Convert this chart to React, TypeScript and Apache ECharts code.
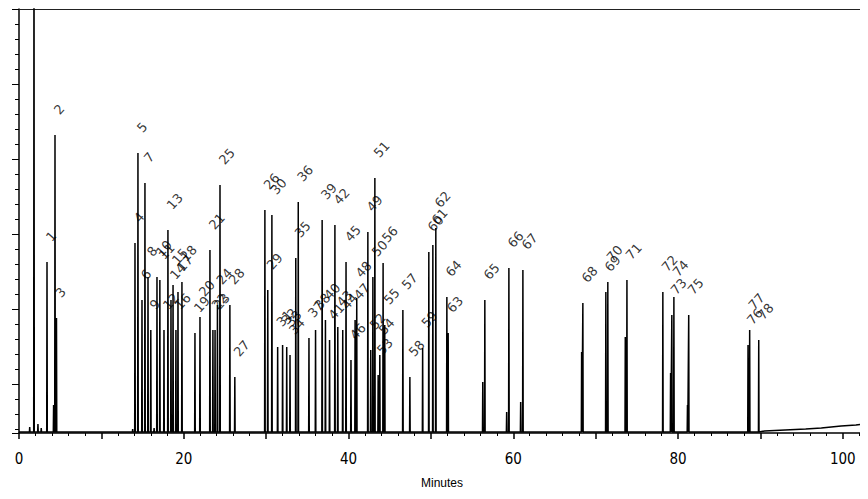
import React, { useEffect, useRef } from "react";
import * as echarts from "echarts";

// Numbered peaks: retention time (min), apex height (detector units), peak number
const peakTimes = [
  3.4, 4.37, 4.55, 14.08, 14.44, 14.93, 15.29, 15.66, 16.0, 16.75, 17.1, 17.6, 18.08, 18.45,
  18.7, 19.05, 19.3, 19.78, 21.36, 21.97, 23.18, 23.54, 23.8, 24.09, 24.4, 25.6, 26.2, 29.85,
  30.2, 30.7, 31.4, 32.0, 32.5, 32.9, 33.6, 33.9, 35.2, 36.0, 36.8, 37.2, 37.7, 38.35, 38.7,
  39.3, 39.7, 40.3, 40.8, 41.0, 42.35, 42.7, 42.96, 43.2, 43.6, 43.8, 44.2, 44.4, 46.6, 47.45,
  49.0, 49.75, 50.24, 50.6, 51.94, 52.1, 56.55, 59.47, 61.17, 68.45, 71.24, 71.48, 73.8,
  78.16, 79.25, 79.5, 81.3, 88.5, 88.7, 89.8,
];
const peakHeights = [
  171, 298, 115, 190, 280, 133, 250, 156, 103, 156, 153, 103, 203, 133, 148, 103, 141, 151,
  100, 116, 183, 103, 103, 128, 248, 128, 56, 223, 143, 218, 86, 88, 86, 78, 175, 231, 95, 103,
  213, 113, 93, 208, 106, 103, 171, 73, 113, 135, 201, 83, 156, 255, 58, 78, 170, 108, 123, 56,
  85, 181, 188, 205, 136, 100, 133, 165, 163, 130, 141, 151, 153, 141, 118, 136, 118, 88, 103,
  93,
];
const peakNumbers = [
  "1", "2", "3", "4", "5", "6", "7", "8", "9", "10", "11", "12", "13", "14", "15", "16", "17",
  "18", "19", "20", "21", "22", "23", "24", "25", "28", "27", "26", "29", "30", "31", "32", "33",
  "34", "35", "36", "37", "38", "39", "40", "41", "42", "43", "44", "45", "46", "47", "48", "49",
  "52", "50", "51", "53", "54", "56", "55", "57", "58", "59", "60", "61", "62", "64", "63", "65",
  "66", "67", "68", "69", "70", "71", "72", "73", "74", "75", "76", "77", "78",
];

// Unnumbered responses: solvent front, shoulders and baseline noise
const otherTimes = [1.3, 1.82, 2.3, 2.7, 4.2, 13.8, 16.4, 56.3, 59.2, 60.9, 68.3, 73.6, 79.1, 81.15];
const otherHeights = [6, 600, 9, 5, 28, 4, 5, 51, 21, 31, 81, 96, 60, 28];

// Late-eluting baseline drift
const driftTimes = [90.5, 93, 95.5, 97.4, 99.8, 101.6, 102.7];
const driftHeights = [2, 3, 4, 5, 7, 8, 9];

const BASE = 1;
const HALF_WIDTH = 0.035;
const RUN_END = 102.7;

export default function App() {
  const ref = useRef<HTMLDivElement>(null);

  useEffect(() => {
    if (!ref.current) return;
    const chart = echarts.init(ref.current, null, { renderer: "svg" });

    const spikes: [number, number][] = [];
    peakTimes.forEach((t, i) => spikes.push([t, peakHeights[i]]));
    otherTimes.forEach((t, i) => spikes.push([t, otherHeights[i]]));
    spikes.sort((a, b) => a[0] - b[0]);

    const trace: [number, number][] = [[0, BASE]];
    spikes.forEach(([t, h]) => {
      trace.push([t - HALF_WIDTH, BASE], [t, h], [t + HALF_WIDTH, BASE]);
    });
    driftTimes.forEach((t, i) => trace.push([t, driftHeights[i]]));

    const labels = peakTimes.map((t, i) => [t, peakHeights[i], peakNumbers[i]]);

    const axisFont = "'Liberation Sans Narrow', 'DejaVu Sans Condensed', 'Liberation Sans', sans-serif";

    chart.setOption({
      animation: false,
      backgroundColor: "#ffffff",
      grid: { left: 19, right: 0, top: 9, bottom: 66 },
      xAxis: [
        {
          type: "value",
          min: 0,
          max: RUN_END,
          interval: 10,
          name: "Minutes",
          nameLocation: "middle",
          nameGap: 44,
          nameTextStyle: { color: "#000", fontSize: 12, fontFamily: "'Liberation Sans', sans-serif" },
          axisLine: { show: true, lineStyle: { color: "#000", width: 1.5 } },
          axisTick: { show: true, length: 6, lineStyle: { color: "#000", width: 1.5 } },
          minorTick: { show: true, splitNumber: 5, length: 3, lineStyle: { color: "#000", width: 1 } },
          splitLine: { show: false },
          axisLabel: {
            color: "#000",
            fontSize: 15,
            fontFamily: axisFont,
            margin: 18,
            formatter: (v: number) => (v % 20 === 0 ? String(v) : ""),
          },
        },
        {
          type: "value",
          position: "top",
          min: 0,
          max: RUN_END,
          axisLine: { show: true, lineStyle: { color: "#222", width: 1 } },
          axisTick: { show: false },
          axisLabel: { show: false },
          splitLine: { show: false },
        },
      ],
      yAxis: [
        {
          type: "value",
          min: 0,
          max: 424,
          axisLine: { show: true, lineStyle: { color: "#000", width: 1.5 } },
          axisTick: { show: false },
          axisLabel: { show: false },
          splitLine: { show: false },
        },
        {
          type: "value",
          position: "left",
          inverse: true,
          min: 0,
          max: 424,
          interval: 75,
          axisLine: { show: false },
          axisTick: { show: true, length: 7, lineStyle: { color: "#000", width: 1 } },
          minorTick: { show: true, splitNumber: 5, length: 4, lineStyle: { color: "#000", width: 1 } },
          axisLabel: { show: false },
          splitLine: { show: false },
        },
      ],
      series: [
        {
          type: "line",
          data: trace,
          showSymbol: false,
          symbol: "none",
          clip: true,
          lineStyle: { color: "#000", width: 1.5 },
          silent: true,
        },
        {
          type: "scatter",
          data: labels,
          symbolSize: 0,
          silent: true,
          label: {
            show: true,
            formatter: (p: any) => p.data[2],
            position: "top",
            distance: 21,
            offset: [2, 0],
            rotate: 48,
            align: "left",
            verticalAlign: "middle",
            color: "#000",
            fontSize: 13,
            fontFamily: "'DejaVu Sans', sans-serif",
          },
        },
      ],
    });

    return () => chart.dispose();
  }, []);

  return <div ref={ref} style={{ width: 868, height: 499, margin: -8 }} />;
}
